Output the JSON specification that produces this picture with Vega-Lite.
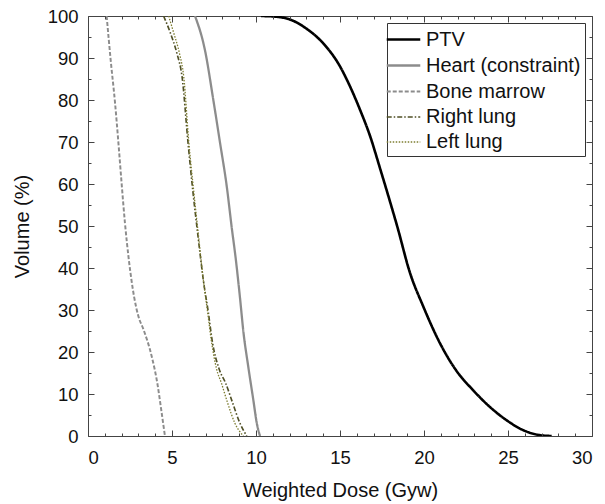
{
  "$schema": "https://vega.github.io/schema/vega-lite/v6.json",
  "width": 504,
  "height": 420,
  "autosize": {"type": "none"},
  "padding": {"left": 88, "top": 16, "right": 13, "bottom": 68},
  "background": "white",
  "config": {
    "font": "Liberation Sans",
    "view": {"stroke": "#444444", "strokeWidth": 1},
    "axis": {"grid": false, "domain": false, "tickColor": "#444444", "tickWidth": 1, "labelColor": "#111111", "titleColor": "#111111", "labelFont": "Liberation Sans", "titleFont": "Liberation Sans", "labelFontSize": 18.5, "titleFontSize": 20, "titleFontWeight": "normal"}
  },
  "data": {
    "values": [
      {"series": "PTV", "dose": 10.3, "vol": 100},
      {"series": "PTV", "dose": 11.0, "vol": 99.9},
      {"series": "PTV", "dose": 12.0, "vol": 99.2},
      {"series": "PTV", "dose": 13.0, "vol": 97},
      {"series": "PTV", "dose": 14.0, "vol": 93.5},
      {"series": "PTV", "dose": 15.0, "vol": 88},
      {"series": "PTV", "dose": 15.6, "vol": 83.2},
      {"series": "PTV", "dose": 16.2, "vol": 77.6},
      {"series": "PTV", "dose": 16.8, "vol": 71.3},
      {"series": "PTV", "dose": 17.4, "vol": 63.5},
      {"series": "PTV", "dose": 18.0, "vol": 55.5},
      {"series": "PTV", "dose": 18.4, "vol": 50},
      {"series": "PTV", "dose": 19.17, "vol": 38.8},
      {"series": "PTV", "dose": 19.96, "vol": 30.8},
      {"series": "PTV", "dose": 20.95, "vol": 22.1},
      {"series": "PTV", "dose": 21.9, "vol": 15.7},
      {"series": "PTV", "dose": 22.9, "vol": 11},
      {"series": "PTV", "dose": 23.9, "vol": 7},
      {"series": "PTV", "dose": 24.9, "vol": 3.8},
      {"series": "PTV", "dose": 25.9, "vol": 1.4},
      {"series": "PTV", "dose": 26.9, "vol": 0.2},
      {"series": "PTV", "dose": 27.6, "vol": 0},
      {"series": "Heart (constraint)", "dose": 6.37, "vol": 100},
      {"series": "Heart (constraint)", "dose": 6.96, "vol": 91.9},
      {"series": "Heart (constraint)", "dose": 7.46, "vol": 80},
      {"series": "Heart (constraint)", "dose": 7.86, "vol": 69.8},
      {"series": "Heart (constraint)", "dose": 8.26, "vol": 59.4},
      {"series": "Heart (constraint)", "dose": 8.55, "vol": 49.8},
      {"series": "Heart (constraint)", "dose": 8.8, "vol": 42},
      {"series": "Heart (constraint)", "dose": 9.05, "vol": 32.8},
      {"series": "Heart (constraint)", "dose": 9.25, "vol": 24.8},
      {"series": "Heart (constraint)", "dose": 9.54, "vol": 16.5},
      {"series": "Heart (constraint)", "dose": 9.84, "vol": 8.6},
      {"series": "Heart (constraint)", "dose": 10.05, "vol": 3},
      {"series": "Heart (constraint)", "dose": 10.24, "vol": 0},
      {"series": "Bone marrow", "dose": 1.11, "vol": 100},
      {"series": "Bone marrow", "dose": 1.35, "vol": 89.5},
      {"series": "Bone marrow", "dose": 1.61, "vol": 79.3},
      {"series": "Bone marrow", "dose": 1.81, "vol": 69.8},
      {"series": "Bone marrow", "dose": 2.0, "vol": 60.2},
      {"series": "Bone marrow", "dose": 2.2, "vol": 50.7},
      {"series": "Bone marrow", "dose": 2.43, "vol": 42},
      {"series": "Bone marrow", "dose": 2.75, "vol": 33},
      {"series": "Bone marrow", "dose": 3.0, "vol": 28.5},
      {"series": "Bone marrow", "dose": 3.29, "vol": 25.5},
      {"series": "Bone marrow", "dose": 3.79, "vol": 19},
      {"series": "Bone marrow", "dose": 4.15, "vol": 12},
      {"series": "Bone marrow", "dose": 4.36, "vol": 6.2},
      {"series": "Bone marrow", "dose": 4.58, "vol": 0},
      {"series": "Right lung", "dose": 4.5, "vol": 100},
      {"series": "Right lung", "dose": 4.9, "vol": 96},
      {"series": "Right lung", "dose": 5.3, "vol": 91},
      {"series": "Right lung", "dose": 5.6, "vol": 85.5},
      {"series": "Right lung", "dose": 5.95, "vol": 70},
      {"series": "Right lung", "dose": 6.25, "vol": 58},
      {"series": "Right lung", "dose": 6.55, "vol": 47.5},
      {"series": "Right lung", "dose": 6.87, "vol": 37},
      {"series": "Right lung", "dose": 7.16, "vol": 29.5},
      {"series": "Right lung", "dose": 7.4, "vol": 22.5},
      {"series": "Right lung", "dose": 7.8, "vol": 16},
      {"series": "Right lung", "dose": 8.2, "vol": 12.5},
      {"series": "Right lung", "dose": 8.6, "vol": 8},
      {"series": "Right lung", "dose": 9.05, "vol": 3},
      {"series": "Right lung", "dose": 9.45, "vol": 0},
      {"series": "Left lung", "dose": 4.8, "vol": 100},
      {"series": "Left lung", "dose": 5.1, "vol": 96},
      {"series": "Left lung", "dose": 5.45, "vol": 91},
      {"series": "Left lung", "dose": 5.7, "vol": 85.5},
      {"series": "Left lung", "dose": 6.0, "vol": 70},
      {"series": "Left lung", "dose": 6.3, "vol": 58},
      {"series": "Left lung", "dose": 6.58, "vol": 47.5},
      {"series": "Left lung", "dose": 6.87, "vol": 37},
      {"series": "Left lung", "dose": 7.12, "vol": 29.5},
      {"series": "Left lung", "dose": 7.35, "vol": 22.5},
      {"series": "Left lung", "dose": 7.65, "vol": 16},
      {"series": "Left lung", "dose": 7.95, "vol": 12.5},
      {"series": "Left lung", "dose": 8.3, "vol": 8},
      {"series": "Left lung", "dose": 8.75, "vol": 3},
      {"series": "Left lung", "dose": 9.25, "vol": 0}
    ]
  },
  "layer": [
    {
      "mark": {"type": "line", "clip": true, "interpolate": "monotone"},
      "encoding": {
        "x": {"field": "dose", "type": "quantitative", "scale": {"domain": [0, 30], "nice": false},
              "axis": {"orient": "bottom", "values": [0, 5, 10, 15, 20, 25, 30], "ticks": false, "labelPadding": 12, "title": "Weighted Dose (Gyw)", "titlePadding": 14}},
        "y": {"field": "vol", "type": "quantitative", "scale": {"domain": [0, 100], "nice": false},
              "axis": {"orient": "left", "values": [0, 10, 20, 30, 40, 50, 60, 70, 80, 90, 100], "ticks": false, "labelPadding": 10, "title": "Volume (%)", "titlePadding": 15}},
        "color": {"field": "series", "type": "nominal",
                  "scale": {"domain": ["PTV", "Heart (constraint)", "Bone marrow", "Right lung", "Left lung"], "range": ["#000000", "#8c8c8c", "#8c8c8c", "#4f4f25", "#7d7d30"]},
                  "legend": {"title": null, "orient": "none", "legendX": 299, "legendY": 7, "strokeColor": "#333333", "fillColor": "white", "padding": 4, "symbolType": "M-1.5,0H1.5", "symbolSize": 500, "symbolStrokeWidth": 1.5, "labelFontSize": 20, "labelFont": "Liberation Sans", "labelColor": "#111111", "rowPadding": 3, "labelOffset": 10}},
        "strokeDash": {"field": "series", "type": "nominal",
                       "scale": {"domain": ["PTV", "Heart (constraint)", "Bone marrow", "Right lung", "Left lung"], "range": [[1, 0], [1, 0], [4, 2], [5, 2, 1.5, 2], [1.5, 1.5]]},
                       "legend": {"title": null}},
        "strokeWidth": {"field": "series", "type": "nominal",
                        "scale": {"domain": ["PTV", "Heart (constraint)", "Bone marrow", "Right lung", "Left lung"], "range": [2.6, 1.3, 1.3, 1.3, 1.3]},
                        "legend": {"title": null}}
      }
    },
    {
      "mark": {"type": "point", "opacity": 0},
      "encoding": {
        "x": {"field": "dose", "type": "quantitative", "scale": {"domain": [0, 30], "nice": false},
              "axis": {"orient": "bottom", "offset": -6, "values": [0, 5, 10, 15, 20, 25, 30], "ticks": true, "tickSize": 6, "labels": false, "title": null, "zindex": 2}},
        "y": {"field": "vol", "type": "quantitative", "scale": {"domain": [0, 100], "nice": false},
              "axis": {"orient": "left", "offset": -6, "values": [0, 10, 20, 30, 40, 50, 60, 70, 80, 90, 100], "ticks": true, "tickSize": 6, "labels": false, "title": null, "zindex": 2}}
      }
    },
    {
      "mark": {"type": "point", "opacity": 0},
      "encoding": {
        "x": {"field": "dose", "type": "quantitative", "scale": {"domain": [0, 30], "nice": false},
              "axis": {"orient": "bottom", "offset": -3, "values": [1,2,3,4,6,7,8,9,11,12,13,14,16,17,18,19,21,22,23,24,26,27,28,29], "ticks": true, "tickSize": 3, "labels": false, "title": null, "zindex": 2}},
        "y": {"field": "vol", "type": "quantitative", "scale": {"domain": [0, 100], "nice": false},
              "axis": {"orient": "left", "offset": -3, "values": [5,15,25,35,45,55,65,75,85,95], "ticks": true, "tickSize": 3, "labels": false, "title": null, "zindex": 2}}
      }
    },
    {
      "mark": {"type": "point", "opacity": 0},
      "encoding": {
        "x": {"field": "dose", "type": "quantitative", "scale": {"domain": [0, 30], "nice": false},
              "axis": {"orient": "top", "offset": -6, "values": [0, 5, 10, 15, 20, 25, 30], "ticks": true, "tickSize": 6, "labels": false, "title": null, "zindex": 2}},
        "y": {"field": "vol", "type": "quantitative", "scale": {"domain": [0, 100], "nice": false},
              "axis": {"orient": "right", "offset": -6, "values": [0, 10, 20, 30, 40, 50, 60, 70, 80, 90, 100], "ticks": true, "tickSize": 6, "labels": false, "title": null, "zindex": 2}}
      }
    },
    {
      "mark": {"type": "point", "opacity": 0},
      "encoding": {
        "x": {"field": "dose", "type": "quantitative", "scale": {"domain": [0, 30], "nice": false},
              "axis": {"orient": "top", "offset": -3, "values": [1,2,3,4,6,7,8,9,11,12,13,14,16,17,18,19,21,22,23,24,26,27,28,29], "ticks": true, "tickSize": 3, "labels": false, "title": null, "zindex": 2}},
        "y": {"field": "vol", "type": "quantitative", "scale": {"domain": [0, 100], "nice": false},
              "axis": {"orient": "right", "offset": -3, "values": [5,15,25,35,45,55,65,75,85,95], "ticks": true, "tickSize": 3, "labels": false, "title": null, "zindex": 2}}
      }
    }
  ],
  "resolve": {"axis": {"x": "independent", "y": "independent"}}
}
